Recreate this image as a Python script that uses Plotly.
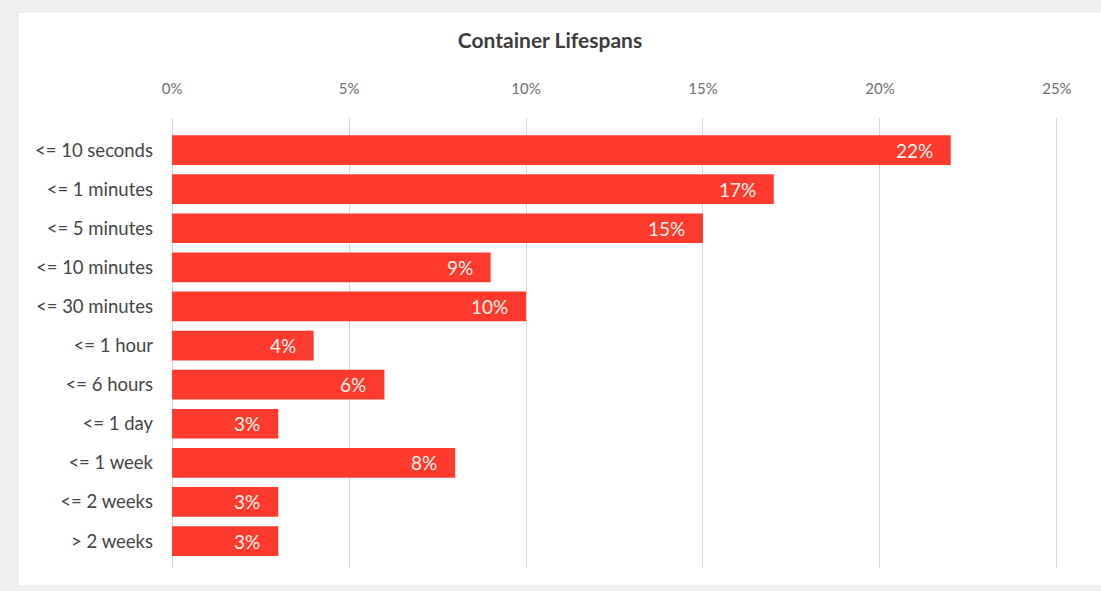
import plotly.graph_objects as go

categories = ["<= 10 seconds", "<= 1 minutes", "<= 5 minutes", "<= 10 minutes",
              "<= 30 minutes", "<= 1 hour", "<= 6 hours", "<= 1 day",
              "<= 1 week", "<= 2 weeks", "> 2 weeks"]
shares = [22, 17, 15, 9, 10, 4, 6, 3, 8, 3, 3]
tick_values = [0, 5, 10, 15, 20, 25]
tick_labels = ["0%", "5%", "10%", "15%", "20%", "25%"]

FONT = "Lato, 'Open Sans', sans-serif"
BAR_RED = "#fe3a2c"

fig = go.Figure()
fig.add_trace(go.Bar(
    x=shares, y=categories, orientation="h",
    marker=dict(color=BAR_RED, line=dict(width=0)),
    width=0.76, hoverinfo="skip",
))

# value labels inside the bar ends
for cat, v in zip(categories, shares):
    fig.add_annotation(x=v, y=cat, text=f"{v}%", showarrow=False,
                       xanchor="right", xshift=-16,
                       font=dict(family=FONT, size=19, color="#fff4ee"))

# white card behind the chart
fig.add_shape(type="rect", xref="paper", yref="paper",
              x0=-0.1635, x1=1.06, y0=-0.04, y1=1.2356,
              fillcolor="white", line=dict(color="#e6e6e6", width=1), layer="below")

fig.update_layout(
    width=1101, height=591,
    margin=dict(l=165, r=37, t=118, b=23),
    paper_bgcolor="#f0f0f0", plot_bgcolor="rgba(0,0,0,0)",
    showlegend=False,
    title=dict(text="<b>Container Lifespans</b>", x=(550 - 165) / 899, xanchor="center",
               xref="paper",
               y=1 - 41 / 591, yanchor="middle",
               font=dict(family=FONT, size=21, color="#3d3d3d")),
    xaxis=dict(side="top", range=[-0.2, 25.2], tickvals=tick_values, ticktext=tick_labels,
               showgrid=True, gridcolor="#d6d6d6", gridwidth=1,
               zeroline=False, showline=False, ticks="",
               ticklabelstandoff=20,
               tickfont=dict(family=FONT, size=15, color="#707070")),
    yaxis=dict(categoryorder="array", categoryarray=categories,
               range=[10.69, -0.82], showgrid=False, zeroline=False,
               showline=False, ticks="", ticklabelstandoff=11,
               tickfont=dict(family=FONT, size=18.5, color="#454545")),
)

fig.write_html("out.html")
